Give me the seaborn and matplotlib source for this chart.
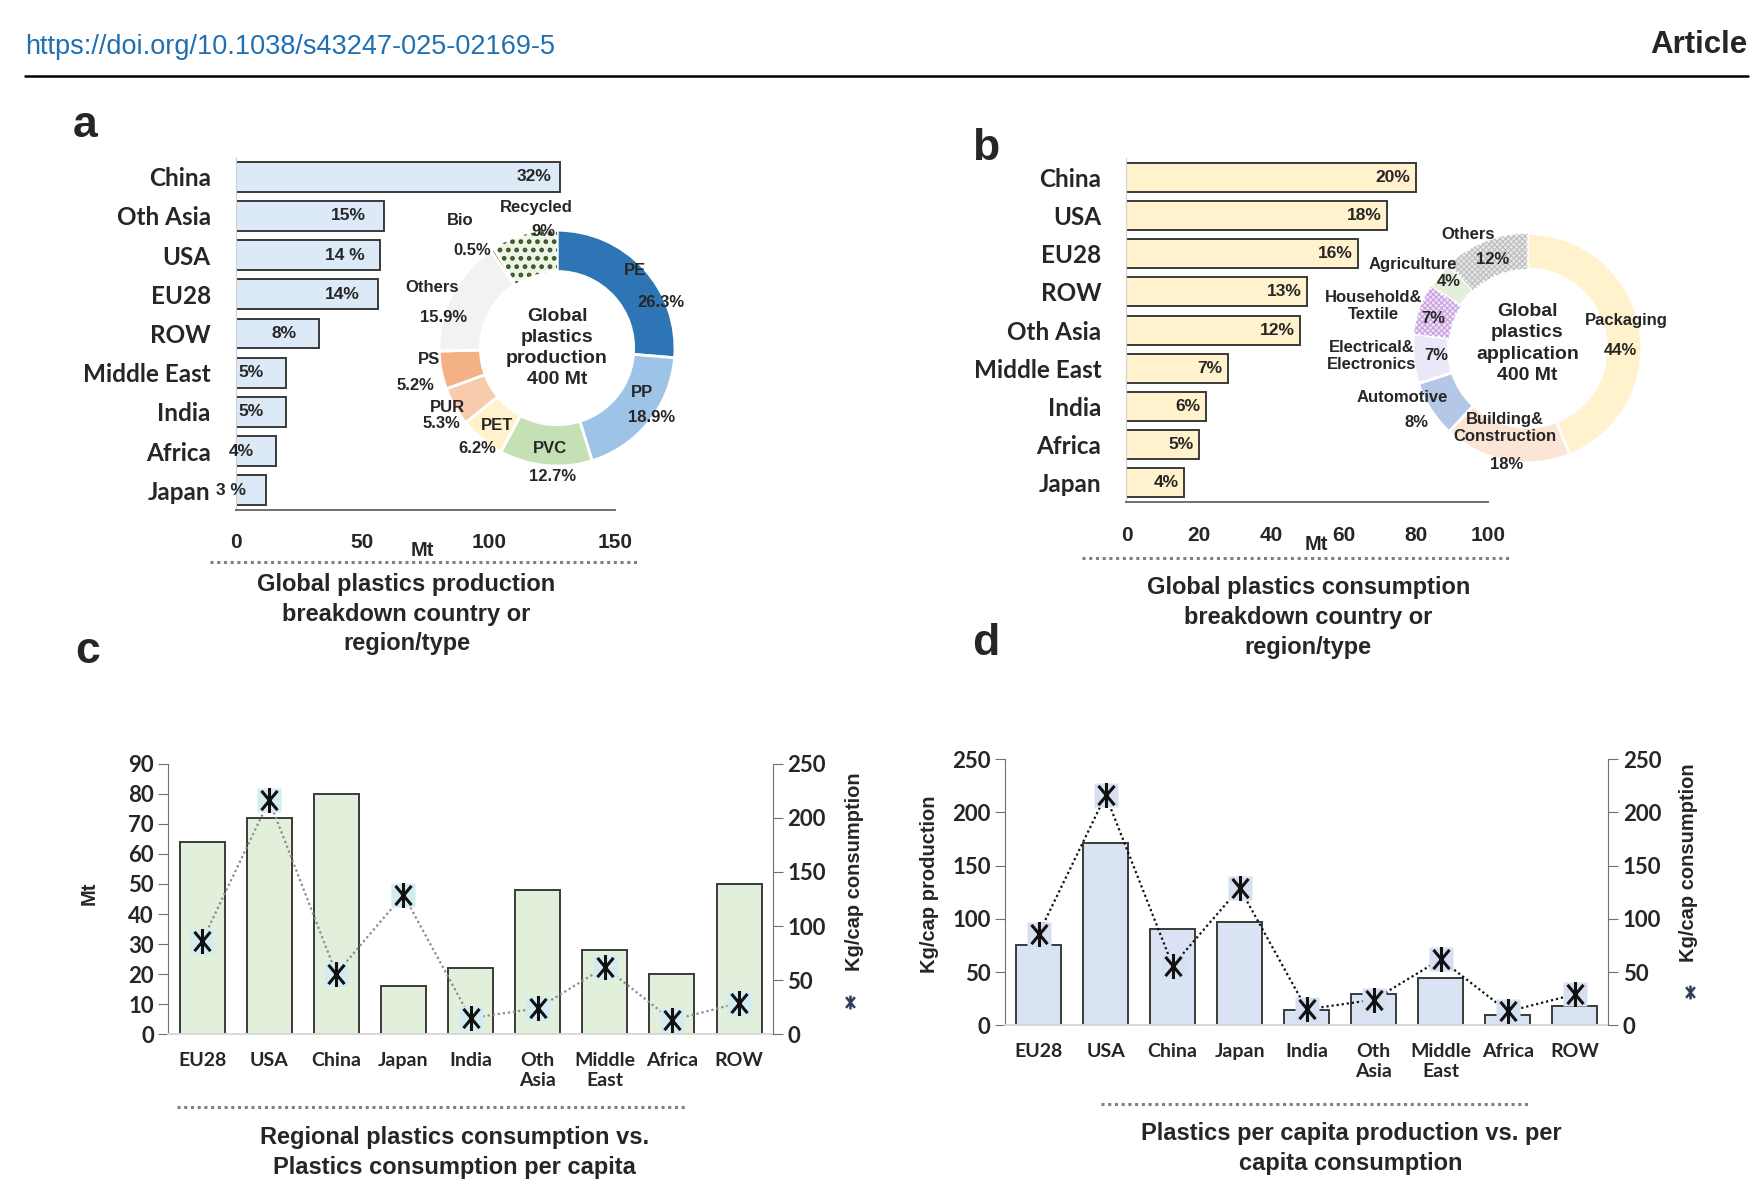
import numpy as np
import matplotlib
matplotlib.use("Agg")
import matplotlib.pyplot as plt
from matplotlib.lines import Line2D
from matplotlib.patches import Wedge
from matplotlib.path import Path
import seaborn as sns

# ---- data ----
# a: production by region (Mt) + polymer split
prod_regions = ["China", "Oth Asia", "USA", "EU28", "ROW", "Middle East", "India", "Africa", "Japan"]
prod_mt = [128, 58.5, 57, 56, 33, 20, 20, 16, 12]
prod_share = ["32%", "15%", "14 %", "14%", "8%", "5%", "5%", "4%", "3 %"]

polymers = ["PE", "PP", "PVC", "PET", "PUR", "PS", "Others", "Bio", "Recycled"]
polymer_pct = [26.3, 18.9, 12.7, 6.2, 5.3, 5.2, 15.9, 0.5, 9.0]
polymer_lbl = ["26.3%", "18.9%", "12.7%", "6.2%", "5.3%", "5.2%", "15.9%", "0.5%", "9%"]

# b: consumption by region (Mt) + application split
cons_regions = ["China", "USA", "EU28", "ROW", "Oth Asia", "Middle East", "India", "Africa", "Japan"]
cons_mt = [80, 72, 64, 50, 48, 28, 22, 20, 16]
cons_share = ["20%", "18%", "16%", "13%", "12%", "7%", "6%", "5%", "4%"]

sectors = ["Packaging", "Building&\nConstruction", "Automotive", "Electrical&\nElectronics",
           "Household&\nTextile", "Agriculture", "Others"]
sector_pct = [44, 18, 8, 7, 7, 4, 12]

# c, d: per region
regions = ["EU28", "USA", "China", "Japan", "India", "Oth\nAsia", "Middle\nEast", "Africa", "ROW"]
consumption_mt = [64, 72, 80, 16, 22, 48, 28, 20, 50]
cons_per_cap = [86, 216, 56, 129, 15, 24, 62, 13, 29]
prod_per_cap = [75, 171, 90, 97, 14, 29, 44, 10, 18]

sns.set_style("white")
plt.rcParams["font.family"] = ["Liberation Sans", "DejaVu Sans"]
CAL = ["Lato", "DejaVu Sans"]
EDGE = "#3a3a3a"

fig = plt.figure(figsize=(17.61, 11.96), dpi=100)

# layout measured on a 1568 x 1065 view of the page
W, H = 1568.0, 1065.0
def rect(x0, y0, x1, y1):
    return [x0 / W, 1 - y1 / H, (x1 - x0) / W, (y1 - y0) / H]
def fxy(x, y):
    return x / W, 1 - y / H

# header
fig.text(*fxy(22, 42), "https://doi.org/10.1038/s43247-025-02169-5", color="#1f6fb2",
         fontsize=19.5, va="center", ha="left")
fig.text(*fxy(1556, 40), "Article", fontsize=22.5, fontweight="bold", va="center", ha="right")
fig.add_artist(Line2D([22 / W, 1556 / W], [1 - 68 / H] * 2, color="black", lw=1.8))

for lab, (x, y) in zip("abcd", [(76, 112), (878, 132), (78, 580), (878, 573)]):
    fig.text(*fxy(x, y), lab, fontsize=32, fontweight="bold", ha="center", va="center")


def hbar_panel(ax, vals, cats, color, xmax, ticks):
    sns.barplot(x=vals, y=cats, orient="h", ax=ax, color=color, saturation=1,
                edgecolor=EDGE, linewidth=1.4, width=0.76)
    ax.set_xlim(0, xmax)
    ax.set_ylim(8.5, -0.5)
    ax.set_xticks(ticks)
    ax.set_xlabel("")
    ax.set_ylabel("")
    for s in ["top", "right"]:
        ax.spines[s].set_visible(False)
    ax.spines["left"].set_color("#d0d0d0")
    ax.spines["bottom"].set_color("#707070")
    ax.spines["bottom"].set_linewidth(1.4)
    ax.tick_params(axis="x", direction="out", length=7, width=1.2, color="#707070", pad=10,
                   labelsize=15)
    ax.tick_params(axis="y", length=0, pad=18)
    for t in ax.get_xticklabels():
        t.set_fontweight("bold")
    for t in ax.get_yticklabels():
        t.set_fontfamily(CAL)
        t.set_fontweight("bold")
        t.set_fontsize(17.5)


def caption(x0, x1, y_line, xc, y_text, text):
    fig.add_artist(Line2D([x0 / W, x1 / W], [1 - y_line / H] * 2, color="#808080",
                          lw=2.2, ls=(0, (1, 1.2))))
    fig.text(*fxy(xc, y_text), text, fontsize=17, fontweight="bold", ha="center", va="top",
             linespacing=1.38)


def ring_hatch(ax, wedges, idx, hatch, hcolor, hlw):
    plt.rcParams["hatch.linewidth"] = hlw
    w = wedges[idx]
    p = Wedge(w.center, w.r, w.theta1, w.theta2, width=w.width, facecolor="none",
              edgecolor=hcolor, hatch=hatch, lw=0)
    if hasattr(p, "set_hatch_linewidth"):
        p.set_hatch_linewidth(hlw)
    ax.add_patch(p)


# ---- panel a ----
ax_a = fig.add_axes(rect(210, 140, 548, 454))
hbar_panel(ax_a, prod_mt, prod_regions, "#dce9f6", 150, [0, 50, 100, 150])
for i, (v, s) in enumerate(zip(prod_mt, prod_share)):
    ax_a.text(v - 14 + (4 if v > 100 else 0), i, s, ha="center", va="center",
              fontsize=12.5, fontweight="bold")
fig.text(*fxy(376, 490), "Mt", fontsize=14.5, fontweight="bold", ha="center", va="center")
caption(187, 570, 500, 362, 510, "Global plastics production\nbreakdown country or\nregion/type")

# donut a
R = 105
ax_pa = fig.add_axes(rect(496 - 1.3 * R, 310 - 1.3 * R, 496 + 1.3 * R, 310 + 1.3 * R))
pa_colors = ["#2e75b6", "#9dc3e6", "#c5e0b4", "#fff2cc", "#f8cbad", "#f4b183", "#f2f2f2",
             "#c55a11", "#eef5e8"]
wa, _ = ax_pa.pie(polymer_pct, colors=pa_colors, startangle=90, counterclock=False,
                  wedgeprops=dict(width=0.35, edgecolor="white", linewidth=2))
ring_hatch(ax_pa, wa, 8, "..", "#385723", 2.2)
ax_pa.set_xlim(-1.3, 1.3)
ax_pa.set_ylim(-1.3, 1.3)
ax_pa.set_aspect("equal")
ax_pa.axis("off")
name_pos = [(0.66, 0.66), (0.72, -0.38), (-0.06, -0.85), (-0.51, -0.66), (-0.93, -0.50),
            (-1.09, -0.10), (-1.06, 0.51), (-0.82, 1.08), (-0.18, 1.19)]
pct_pos = [(0.88, 0.39), (0.80, -0.59), (-0.04, -1.09), (-0.68, -0.85), (-0.98, -0.64),
           (-1.20, -0.32), (-0.96, 0.26), (-0.72, 0.83), (-0.12, 0.99)]
for name, lbl, p1, p2 in zip(polymers, polymer_lbl, name_pos, pct_pos):
    ax_pa.text(*p1, name, ha="center", va="center", fontsize=12, fontweight="bold")
    ax_pa.text(*p2, lbl, ha="center", va="center", fontsize=12, fontweight="bold")
ax_pa.text(0, 0, "Global\nplastics\nproduction\n400 Mt", ha="center", va="center",
           fontsize=14, fontweight="bold", linespacing=1.32)

# ---- panel b ----
ax_b = fig.add_axes(rect(1003, 141, 1325, 447))
hbar_panel(ax_b, cons_mt, cons_regions, "#fff2cc", 100, [0, 20, 40, 60, 80, 100])
for i, (v, s) in enumerate(zip(cons_mt, cons_share)):
    ax_b.text(v - 1.5, i, s, ha="right", va="center", fontsize=12.5, fontweight="bold")
fig.text(*fxy(1172, 485), "Mt", fontsize=14.5, fontweight="bold", ha="center", va="center")
caption(963, 1345, 497, 1165, 513, "Global plastics consumption\nbreakdown country or\nregion/type")

# donut b
R = 102
ax_pb = fig.add_axes(rect(1360 - 1.4 * R, 310 - 1.4 * R, 1360 + 1.4 * R, 310 + 1.4 * R))
pb_colors = ["#fff2cc", "#fbe5d6", "#b4c7e7", "#e8e8f8", "#f0e0f8", "#e2f0d9", "#e6e6e6"]
wb, _ = ax_pb.pie(sector_pct, colors=pb_colors, startangle=90, counterclock=False,
                  wedgeprops=dict(width=0.31, edgecolor="white", linewidth=2))
ring_hatch(ax_pb, wb, 4, "xxxxxx", "#c8a0dc", 0.8)
ring_hatch(ax_pb, wb, 6, "xxxxxx", "#bdbdbd", 0.8)
ax_pb.set_xlim(-1.4, 1.4)
ax_pb.set_ylim(-1.4, 1.4)
ax_pb.set_aspect("equal")
ax_pb.axis("off")
sec_name_pos = [(0.86, 0.24), (-0.20, -0.70), (-1.09, -0.43), (-1.36, -0.07), (-1.34, 0.37),
                (-1.0, 0.73), (-0.52, 0.99)]
sec_pct_pos = [(0.81, -0.02), (-0.18, -1.02), (-0.97, -0.65), (-0.80, -0.06), (-0.82, 0.26),
               (-0.69, 0.58), (-0.30, 0.77)]
for name, v, p1, p2 in zip(sectors, sector_pct, sec_name_pos, sec_pct_pos):
    ax_pb.text(*p1, name, ha="center", va="center", fontsize=12, fontweight="bold",
               linespacing=1.15)
    ax_pb.text(*p2, f"{v}%", ha="center", va="center", fontsize=12, fontweight="bold")
ax_pb.text(0, 0.04, "Global\nplastics\napplication\n400 Mt", ha="center", va="center",
           fontsize=14, fontweight="bold", linespacing=1.32)

# ---- panels c, d ----
star = Path([(0, -1), (0, 1), (-0.64, -0.77), (0.64, 0.77), (-0.64, 0.77), (0.64, -0.77)],
            [Path.MOVETO, Path.LINETO, Path.MOVETO, Path.LINETO, Path.MOVETO, Path.LINETO])


def combo_panel(ax, bars, ylim_l, yticks_l, bar_color, line_color, mark_bg, ylabel_l,
                lpos_l, lpos_r):
    sns.barplot(x=list(range(len(regions))), y=bars, ax=ax, color=bar_color, saturation=1,
                edgecolor=EDGE, linewidth=1.4, width=0.67)
    ax.set_xlim(-0.5, len(regions) - 0.5)
    ax.set_ylim(*ylim_l)
    ax.set_yticks(yticks_l)
    ax.set_xticks(range(len(regions)))
    ax.set_xticklabels(regions, fontfamily=CAL, fontweight="bold", fontsize=14, linespacing=1.2)
    ax.set_xlabel("")
    ax.set_ylabel(ylabel_l, fontsize=14.5, fontweight="bold")
    ax.yaxis.set_label_coords(*lpos_l)
    ax.tick_params(axis="x", length=0, pad=13)
    ax.tick_params(axis="y", direction="out", length=7, color="#707070", labelsize=16)
    for t in ax.get_yticklabels():
        t.set_fontfamily(CAL)
        t.set_fontweight("bold")
    ax.spines["top"].set_visible(False)
    ax.spines["right"].set_visible(False)
    ax.spines["left"].set_color("#707070")
    ax.spines["bottom"].set_color("#d9d9d9")
    ax.spines["bottom"].set_linewidth(1.4)

    ax2 = ax.twinx()
    x = np.arange(len(regions))
    ax2.plot(x, cons_per_cap, color=line_color, ls=(0, (1, 1.3)), lw=1.6, zorder=2)
    ax2.plot(x, cons_per_cap, ls="none", marker="s", ms=17, mfc=mark_bg, mec="none", zorder=3)
    ax2.plot(x, cons_per_cap, ls="none", marker=star, ms=18, mec="#111111", mew=2.2, zorder=4)
    ax2.set_ylim(0, 250)
    ax2.set_yticks([0, 50, 100, 150, 200, 250])
    ax2.set_ylabel("Kg/cap consumption", fontsize=14.5, fontweight="bold")
    ax2.yaxis.set_label_coords(*lpos_r)
    ax2.tick_params(axis="y", direction="out", length=7, color="#707070", labelsize=16)
    for t in ax2.get_yticklabels():
        t.set_fontfamily(CAL)
        t.set_fontweight("bold")
    for s in ["top", "left", "bottom"]:
        ax2.spines[s].set_visible(False)
    ax2.spines["right"].set_color("#707070")
    handle = Line2D([], [], ls="none", marker=star, ms=10, mec="#2f3f5f", mew=1.8)
    return ax2, handle


ax_c = fig.add_axes(rect(150, 680, 688, 921))
ax_c2, h_c = combo_panel(ax_c, consumption_mt, (0, 90), range(0, 91, 10), "#e2efda",
                         "#8c8c8c", "#d3ecf2", "Mt", (-0.115, 0.52), (1.12, 0.60))
fig.legend(handles=[h_c], labels=[""], loc="center", bbox_to_anchor=fxy(757, 893),
           frameon=False, handlelength=0.6, borderpad=0, handletextpad=0)
caption(158, 612, 986, 405, 1003, "Regional plastics consumption vs.\nPlastics consumption per capita")

ax_d = fig.add_axes(rect(895, 676, 1432, 913))
ax_d2, h_d = combo_panel(ax_d, prod_per_cap, (0, 250), range(0, 251, 50), "#dae3f3",
                         "#111111", "#d6e0f0", "Kg/cap production", (-0.11, 0.53),
                         (1.117, 0.61))
fig.legend(handles=[h_d], labels=[""], loc="center", bbox_to_anchor=fxy(1505, 884),
           frameon=False, handlelength=0.6, borderpad=0, handletextpad=0)
caption(980, 1362, 983, 1203, 999, "Plastics per capita production vs. per\ncapita consumption")

fig.savefig("out.png", dpi=100)
plt.close(fig)
